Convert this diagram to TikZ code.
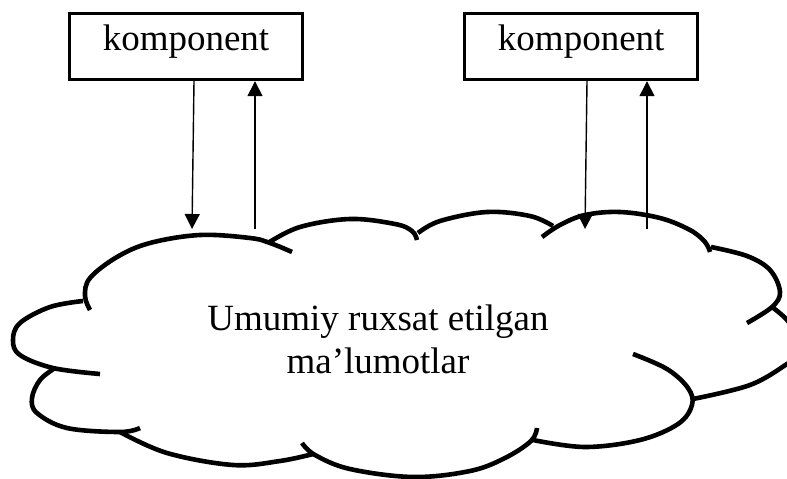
\documentclass[tikz,border=0pt]{standalone}
\usepackage{fontspec}
\setmainfont{Liberation Serif}
\usetikzlibrary{arrows.meta}
\begin{document}
\begin{tikzpicture}[x=1pt,y=-1pt,
  comp/.style={draw,line width=3pt,inner sep=0pt,minimum width=233pt,
    text height=36.3pt,text depth=29.7pt,font=\fontsize{37}{43}\selectfont},
  arr/.style={line width=1.4pt,-{Triangle[width=15pt,length=15pt]}},
  cloudline/.style={line width=4.6pt},
  lobe/.style={smooth,tension=0.6},
  cloudtext/.style={align=center,font=\fontsize{37}{43}\selectfont,inner sep=0pt}]
\path[use as bounding box] (0,0) rectangle (787,479);
\clip (0,0) rectangle (787,479);

% component boxes
\node[comp,anchor=base] (b1) at (186,50) {komponent};
\node[comp,anchor=base] (b2) at (581.2,50) {komponent};

% arrow end points on the cloud
\coordinate (c1) at (192,229);
\coordinate (c2) at (255,229);
\coordinate (c3) at (585,229);
\coordinate (c4) at (647,229);

\draw[arr] ([xshift=8pt]b1.south) -- (c1);
\draw[arr] (c2) -- (c2 |- b1.south);
\draw[arr] ([xshift=5.8pt]b2.south) -- (c3);
\draw[arr] (c4) -- (c4 |- b2.south);

% cloud lobes
\draw[cloudline] plot[lobe] coordinates {(90,310) (85,296) (90,278) (117,257) (150,243) (200,235) (250,238) (270,243) (292,252)};
\draw[cloudline] plot[lobe] coordinates {(268,243) (300,227) (350,219) (395,224) (412,231) (417,240)};
\draw[cloudline] plot[lobe] coordinates {(418,233) (440,221) (487,212) (530,216) (553,226)};
\draw[cloudline] plot[lobe] coordinates {(542,237) (560,225) (585,215) (620,212) (660,218) (690,230) (705,242) (710,252)};
\draw[cloudline] plot[lobe] coordinates {(711,247) (747,256) (770,270) (780,292) (772,307) (747,323)};
\draw[cloudline] plot[lobe] coordinates {(772,307) (787,320) (800,340) (796,356) (787,364) (750,385) (693,399)};
\draw[cloudline] plot[lobe] coordinates {(633,354) (667,369) (688,388) (692,405) (678,424) (640,440) (585,447) (533,440)};
\draw[cloudline] plot[lobe] coordinates {(537,428) (531,441) (505,458) (470,471) (413,477) (350,469) (315,455) (302,443)};
\draw[cloudline] plot[lobe] coordinates {(120,432) (167,453) (233,465) (280,461) (313,454)};
\draw[cloudline] plot[lobe] coordinates {(55,368) (40,380) (32,398) (37,413) (67,428) (120,432) (140,428)};
\draw[cloudline] plot[lobe] coordinates {(83,301) (50,307) (20,323) (13,340) (20,355) (53,368) (100,374)};

% cloud text
\node[cloudtext,anchor=base] (t) at (378,373) {Umumiy ruxsat etilgan\\ma’lumotlar};
\end{tikzpicture}
\end{document}
